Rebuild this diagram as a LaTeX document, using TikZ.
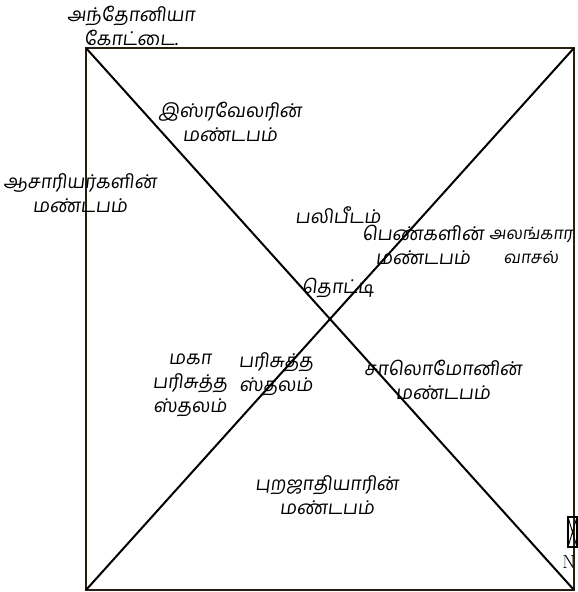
\documentclass[tikz,border=0pt]{standalone}
\usepackage{fontspec}
\usepackage{xcolor}
\usepackage{tikz}
\newfontfamily\tamilfont[Script=Tamil,FakeSlant=0.12]{Hind Madurai}
\definecolor{wallbrown}{RGB}{40,30,18}

\tikzset{
  hall/.style={font=\tamilfont\fontsize{19}{24}\selectfont,align=center,inner sep=0pt},
}

\begin{document}
\begin{tikzpicture}[x=1pt,y=-1pt]
        \useasboundingbox (0,0) rectangle (578,592);
        % temple court
        \coordinate (nw) at (86,48);
        \coordinate (ne) at (574,48);
        \coordinate (sw) at (86,590);
        \coordinate (se) at (574,590);
        \draw[line width=2.2pt,wallbrown] (nw) rectangle (se);
        \draw[line width=2pt] (nw) -- (se);
        \draw[line width=2pt] (sw) -- (ne);
        % small gate mark
        \draw[line width=1.2pt] (568,517) rectangle (577,547);
        \draw[line width=0.9pt] (568,517) -- (577,547) (577,517) -- (568,547);
        \node[font=\fontsize{19}{19}\selectfont,inner sep=0pt] (nmark) at (569,562) {N};
        % halls
        \node[hall] (antonia) at (131,26) {அந்தோனியா\\கோட்டை.};
        \node[hall] (israel) at (230,122) {இஸ்ரவேலரின்\\மண்டபம்};
        \node[hall] (priests) at (80,193) {ஆசாரியர்களின்\\மண்டபம்};
        \node[hall] (altar) at (338,215) {பலிபீடம்};
        \node[hall] (women) at (423,245) {பெண்களின்\\மண்டபம்};
        \node[hall,font=\tamilfont\fontsize{17}{24}\selectfont] (gate) at (531,245) {அலங்கார\\வாசல்};
        \node[hall] (laver) at (338,288) {தொட்டி};
        \node[hall] (holiest) at (190,385) {மகா\\பரிசுத்த\\ஸ்தலம்};
        \node[hall] (holy) at (276,374) {பரிசுத்த\\ஸ்தலம்};
        \node[hall] (solomon) at (443,380) {சாலொமோனின்\\மண்டபம்};
        \node[hall] (gentiles) at (327,495) {புறஜாதியாரின்\\மண்டபம்};
      \end{tikzpicture}
\end{document}
